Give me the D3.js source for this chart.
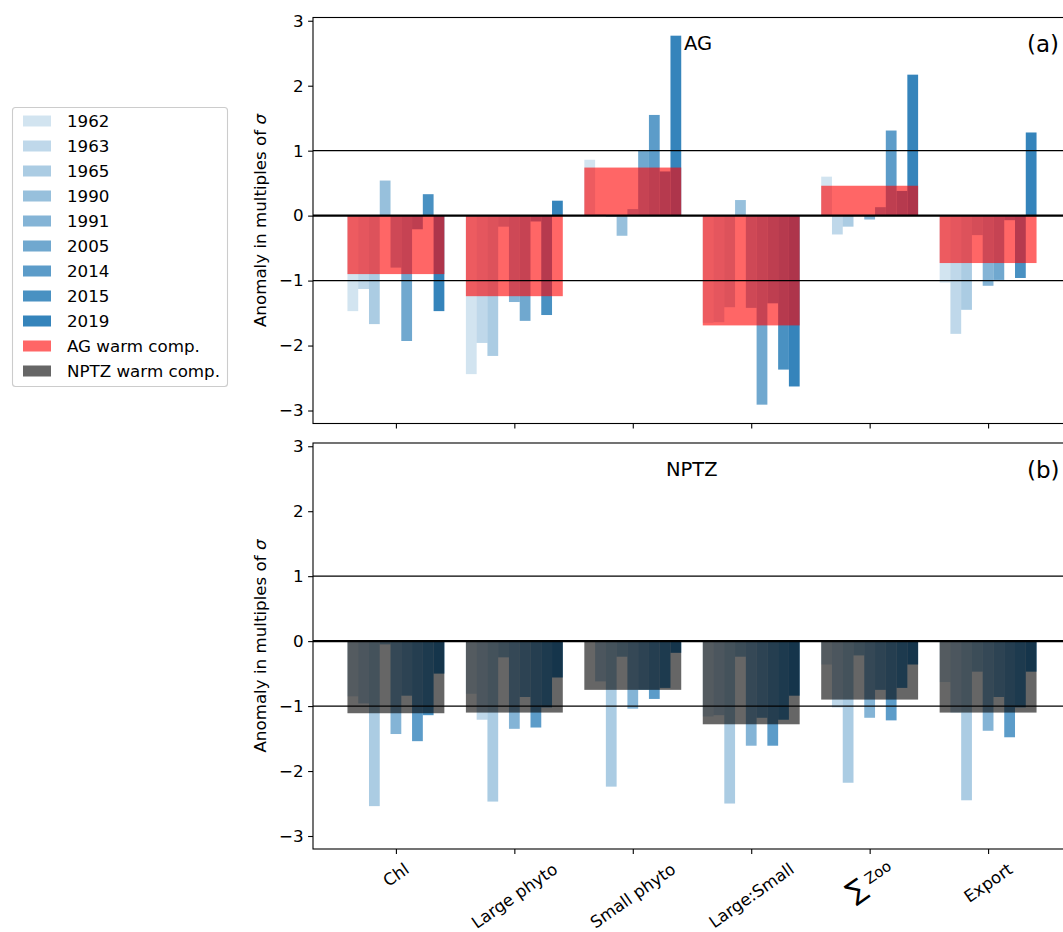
<!DOCTYPE html>
<html>
<head>
<meta charset="utf-8">
<script src="https://cdn.jsdelivr.net/npm/d3@7"></script>
<style>
  html, body { margin: 0; padding: 0; background: #fff; }
  svg { display: block; font-family: "DejaVu Sans", sans-serif; }
</style>
</head>
<body>
<svg id="chart" width="1063" height="932"></svg>
<script>
// Variables shown along the x axis
const categories = ["Chl", "Large phyto", "Small phyto", "Large:Small", "ΣZoo", "Export"];
// Years whose anomalies are drawn as thin bars in each group
const years = ["1962", "1963", "1965", "1990", "1991", "2005", "2014", "2015", "2019"];
const yTicks = [-3, -2, -1, 0, 1, 2, 3];

// AG model anomalies, one row per category, one value per year
const agChl        = [-1.47, -1.13, -1.67,  0.54, -0.80, -1.93, -0.21,  0.33, -1.47];
const agLargePhyto = [-2.44, -1.96, -2.16, -0.17, -1.33, -1.62, -0.09, -1.53,  0.23];
const agSmallPhyto = [ 0.86,  0.02, -0.02, -0.31,  0.10,  1.00,  1.55,  0.68,  2.77];
const agLargeSmall = [-1.65, -1.64, -1.41,  0.24, -1.42, -2.91, -1.35, -2.37, -2.63];
const agZoo        = [ 0.60, -0.29, -0.17,  0.01, -0.06,  0.13,  1.31,  0.38,  2.17];
const agExport     = [-1.03, -1.82, -1.45, -0.30, -1.08, -0.99, -0.07, -0.96,  1.28];
const agWarmComp   = [-0.90, -1.24, 0.74, -1.69, 0.46, -0.73];

// NPTZ model anomalies
const npChl        = [-0.85, -0.96, -2.54, -0.05, -1.43, -0.84, -1.54, -1.14, -0.50];
const npLargePhyto = [-0.81, -1.21, -2.47, -0.25, -1.35, -0.86, -1.33, -1.02, -0.56];
const npSmallPhyto = [ 0.00, -0.62, -2.24, -0.24, -1.04, -0.75, -0.89, -0.72, -0.18];
const npLargeSmall = [-1.16, -1.14, -2.50, -0.24, -1.61, -1.18, -1.61, -1.21, -0.84];
const npZoo        = [-0.36, -1.02, -2.18, -0.22, -1.18, -0.75, -1.22, -0.72, -0.36];
const npExport     = [-0.63, -1.10, -2.45, -0.47, -1.38, -0.86, -1.48, -1.02, -0.47];
const npWarmComp   = [-1.11, -1.10, -0.75, -1.28, -0.90, -1.10];

const panels = [
  { rows: [agChl, agLargePhyto, agSmallPhyto, agLargeSmall, agZoo, agExport],
    comp: agWarmComp, compColor: "red", name: "AG", tag: "(a)", top: 17.5, showLabels: false,
    nameX: 684 },
  { rows: [npChl, npLargePhyto, npSmallPhyto, npLargeSmall, npZoo, npExport],
    comp: npWarmComp, compColor: "black", name: "NPTZ", tag: "(b)", top: 443, showLabels: true,
    nameX: 666 }
];

const blue = "#1f77b4";
const yearAlpha = years.map((_, i) => 0.2 + i * 0.7 / 8);
const compAlpha = 0.6;
const barW = 1 / 11;

const svg = d3.select("#chart");
const left = 313, plotW = 758, plotH = 406;
const fs = 16.7;

const x = d3.scaleLinear().domain([-0.7, 5.7]).range([left, left + plotW]);

panels.forEach(p => {
  const y = d3.scaleLinear().domain([-3.2, 3.05]).range([p.top + plotH, p.top]);
  const g = svg.append("g");

  // yearly bars
  p.rows.forEach((vals, k) => {
    g.selectAll(null).data(vals).enter().append("rect")
      .attr("x", (d, i) => x(k + (i - 4.5) * barW))
      .attr("width", x(barW) - x(0))
      .attr("y", d => y(Math.max(0, d)))
      .attr("height", d => Math.abs(y(d) - y(0)))
      .attr("fill", blue)
      .attr("fill-opacity", (d, i) => yearAlpha[i]);
  });

  // warm composite, one wide bar per category
  g.selectAll(null).data(p.comp).enter().append("rect")
    .attr("x", (d, k) => x(k - 4.5 * barW))
    .attr("width", x(9 * barW) - x(0))
    .attr("y", d => y(Math.max(0, d)))
    .attr("height", d => Math.abs(y(d) - y(0)))
    .attr("fill", p.compColor)
    .attr("fill-opacity", compAlpha);

  // reference lines
  [-1, 0, 1].forEach(v => {
    g.append("line")
      .attr("x1", left).attr("x2", left + plotW)
      .attr("y1", y(v)).attr("y2", y(v))
      .attr("stroke", "#000")
      .attr("stroke-width", v === 0 ? 2.2 : 1.1);
  });

  // frame
  g.append("rect")
    .attr("x", left).attr("y", p.top).attr("width", plotW).attr("height", plotH)
    .attr("fill", "none").attr("stroke", "#000").attr("stroke-width", 1.1);

  // y axis
  const yAxis = d3.axisLeft(y).tickValues(yTicks).tickSize(4.9).tickPadding(4.5)
    .tickFormat(d => d < 0 ? "\u2212" + Math.abs(d) : String(d));
  const ya = g.append("g").attr("transform", `translate(${left},0)`).call(yAxis);
  ya.select(".domain").remove();
  ya.selectAll("line").attr("stroke-width", 1.1);
  ya.selectAll("text").attr("font-size", fs).attr("font-family", "DejaVu Sans").attr("fill", "#000");

  // x axis ticks
  const xAxis = d3.axisBottom(x).tickValues(d3.range(categories.length)).tickSize(4.9).tickFormat("");
  const xa = g.append("g").attr("transform", `translate(0,${p.top + plotH})`).call(xAxis);
  xa.select(".domain").remove();
  xa.selectAll("line").attr("stroke-width", 1.1);

  // y label
  const yl = g.append("text")
    .attr("transform", `translate(266,${p.top + plotH / 2}) rotate(-90)`)
    .attr("text-anchor", "middle")
    .attr("font-size", fs);
  yl.append("tspan").text("Anomaly in multiples of ");
  yl.append("tspan").attr("font-style", "italic").text("σ");

  // panel titles
  g.append("text").attr("x", p.nameX).attr("y", p.top + 32.5)
    .attr("font-size", 19.5).text(p.name);
  g.append("text").attr("x", 1027).attr("y", p.top + 34.5)
    .attr("font-size", 23).text(p.tag);

  if (p.showLabels) {
    const labelTop = p.top + plotH + 10;
    categories.forEach((c, k) => {
      const t = g.append("text")
        .attr("text-anchor", "middle")
        .attr("dominant-baseline", "central")
        .attr("font-size", fs);
      if (c === "ΣZoo") {
        t.append("tspan").attr("font-size", 26).text("∑");
        t.append("tspan").attr("font-size", 15).attr("dx", 5).attr("dy", "-0.1em").text("Zoo");
      } else {
        t.text(c);
      }
      const w = t.node().getComputedTextLength();
      const h = 19.5;
      const a = 35 * Math.PI / 180;
      const bh = w * Math.sin(a) + h * Math.cos(a);
      t.attr("transform", `translate(${x(k)},${labelTop + bh / 2}) rotate(-35)`);
    });
  }
});

// legend
const legend = svg.append("g");
legend.append("rect")
  .attr("x", 12.5).attr("y", 107.5).attr("width", 215).attr("height", 279)
  .attr("rx", 3).attr("fill", "#fff").attr("stroke", "#cccccc").attr("stroke-width", 1.1);

const legendItems = years.map((yr, i) => ({ label: yr, color: blue, alpha: yearAlpha[i] }))
  .concat([
    { label: "AG warm comp.", color: "red", alpha: compAlpha },
    { label: "NPTZ warm comp.", color: "black", alpha: compAlpha }
  ]);

legendItems.forEach((it, i) => {
  const cy = 121 + i * 25;
  legend.append("rect")
    .attr("x", 23).attr("y", cy - 5.5).attr("width", 28).attr("height", 11)
    .attr("fill", it.color).attr("fill-opacity", it.alpha);
  legend.append("text")
    .attr("x", 67).attr("y", cy).attr("dominant-baseline", "central")
    .attr("font-size", fs).text(it.label);
});
</script>
</body>
</html>
